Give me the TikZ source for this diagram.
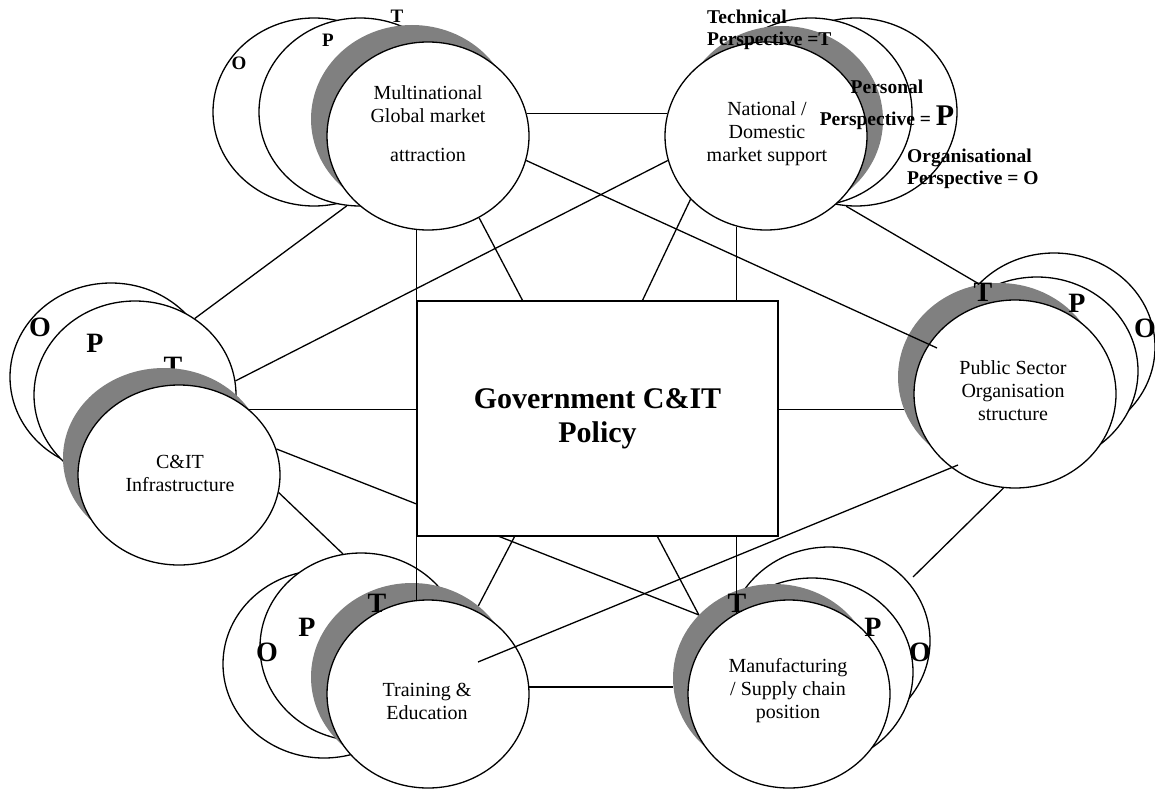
\documentclass[tikz,border=0pt]{standalone}
\usepackage{fontspec}
\setmainfont{Liberation Serif}
\usetikzlibrary{shapes.geometric,calc}
\pgfdeclarelayer{front}
\pgfsetlayers{main,front}
\tikzset{backell/.style={
            draw,
            ellipse,
            fill=white,
            line width=1.3pt,
            inner sep=0pt,
            minimum width=202pt,
            minimum height=188pt
        },
        crescent/.style={
            ellipse,
            fill=black!50,
            inner sep=0pt,
            minimum width=202pt,
            minimum height=188pt
        },
        frontell/.style={backell},
        txt/.style={
            align=center,
            inner sep=0pt,
            font=\fontsize{20}{23}\selectfont
        },
        letter/.style={
            inner sep=0pt,
            font=\bfseries\fontsize{28}{28}\selectfont
        },
        small letter/.style={
            letter,
            font=\bfseries\fontsize{19}{19}\selectfont
        },
        keylbl/.style={
            inner sep=0pt,
            font=\bfseries\fontsize{19.5}{22}\selectfont
        },
        link/.style={line width=1.3pt}
    }

\begin{document}
\begin{tikzpicture}[x=1pt,y=-1pt]
        \useasboundingbox (0,0) rectangle (1155,789);

        % Multinational group
        \node[backell] (mncO) at (314,112) {};
        \node[backell] (mncP) at (360,112) {};
        \node[crescent] (mncS) at (412,119) {};
        \node[frontell] (mnc) at (428,136) {};
        \node[txt] (mncT) at (428,124) {Multinational\\Global market\\[16pt]attraction};
        \node[small letter] (mncLO) at (239,63) {O};
        \node[small letter] (mncLP) at (328,40) {P};
        \node[small letter] (mncLT) at (397,16) {T};

        % National group, shadow on the right
        \node[backell] (natO) at (856,112) {};
        \node[backell] (natP) at (811,112) {};
        \node[crescent] (natS) at (782,120) {};
        \node[frontell] (nat) at (766,136) {};
        \node[txt] (natT) at (767,134) {National /\\Domestic\\market support};
        \node[keylbl,anchor=west,align=left] (techlbl) at (707,29.5) {Technical\\Perspective =T};
        \node[keylbl,align=center] (perslbl) at (887,104.5) {Personal\\[10pt]Perspective = {\fontsize{30}{30}\selectfont P}};
        \node[keylbl,anchor=west,align=left] (orglbl) at (907,169) {Organisational\\Perspective = O};

        % C&IT group
        \node[backell] (infO) at (111,377) {};
        \node[backell] (infP) at (135,395) {};
        \node[letter] (infLO) at (40,327) {O};
        \node[letter] (infLP) at (95,343) {P};
        \node[letter] (infLT) at (173,366) {T};
        \node[crescent,minimum height=180pt] (infS) at (164,458) {};
        \node[frontell,minimum height=180pt] (inf) at (179,475) {};
        \node[txt] (infT) at (180,473) {C\&IT\\Infrastructure};

        % Public sector group
        \node[backell] (pubO) at (1054,347) {};
        \node[backell] (pubP) at (1037,371) {};
        \node[crescent] (pubS) at (999,377) {};
        \node[frontell] (pub) at (1015,394) {};
        \node[txt] (pubT) at (1013,390.5) {Public Sector\\Organisation\\structure};
        \node[letter] (pubLT) at (983,292) {T};
        \node[letter] (pubLP) at (1077,303) {P};
        \node[letter] (pubLO) at (1145,328) {O};

        % Training group
        \node[backell] (eduO) at (324,664) {};
        \node[backell] (eduP) at (361,647) {};
        \node[crescent] (eduS) at (412,677) {};
        \node[frontell] (edu) at (428,694) {};
        \node[txt] (eduT) at (427,701.5) {Training \&\\Education};
        \node[letter] (eduLO) at (267,652) {O};
        \node[letter] (eduLP) at (307,627) {P};
        \node[letter] (eduLT) at (377,603) {T};

        % Manufacturing group
        \node[backell] (manO) at (829,641) {};
        \node[backell] (manP) at (812,672) {};
        \node[crescent] (manS) at (774,678) {};
        \node[frontell] (man) at (789,694) {};
        \node[txt] (manT) at (788,690.8) {Manufacturing\\/ Supply chain\\position};
        \node[letter] (manLT) at (737,603) {T};
        \node[letter] (manLP) at (873,627) {P};
        \node[letter] (manLO) at (920,652) {O};

        % policy box sits above the links
        \begin{pgfonlayer}{front}
        \node[draw,fill=white,line width=1.3pt,minimum width=361pt,minimum height=235pt,
              align=center,font=\bfseries\fontsize{30}{34}\selectfont] (gov) at (597.5,418.5) {Government C\&IT\\Policy};
        \end{pgfonlayer}

        % links
        \draw[link] (mnc.13) -- (nat.167);
        \draw[link] (mnc.-14) -- ($(pub.center)+(-78,-46)$);
        \draw[link] (mnc.-58) -- ($(gov.north)+(-75,0)$);
        \draw[link] (mnc.-97) -- (mnc.-97 |- edu.97);
        \draw[link] (mncP.-98) -- (infP.52);
        \draw[link] (nat.194) -- (infP.8);
        \draw[link] (nat.-140) -- ($(gov.north)+(45,0)$);
        \draw[link] (nat.-108) -- (nat.-108 |- man.124);
        \draw[link] (natO.-96) -- (pubO.140);
        \draw[link] (inf.43) -- (inf.43 -| gov.west);
        \draw[link] (inf.15) -- (manS.140);
        \draw[link] (inf.-10) -- (eduP.101);
        \draw[link] ($(gov.south)+(-83,0)$) -- (eduS.47);
        \draw[link] ($(gov.south)+(60,0)$) -- (manS.140);
        \draw[link] ($(pub.center)+(-57,71)$) -- ($(edu.center)+(50,-32)$);
        \draw[link] (pub.-97) -- ($(manO.center)+(84,-64)$);
        \draw[link] (gov.east |- pubS.-161) -- (pubS.-161);
        \draw[link] (edu.4) -- (edu.4 -| manS.west);

    \end{tikzpicture}
\end{document}
